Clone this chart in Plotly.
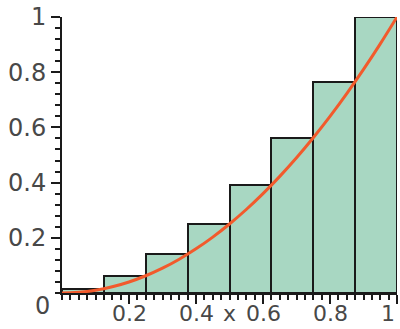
import plotly.graph_objects as go

# Right-endpoint rectangles (left edge, height)
bar_left = [0.0, 0.125, 0.25, 0.375, 0.5, 0.625, 0.75, 0.875]
bar_height = [0.016, 0.062, 0.141, 0.25, 0.391, 0.562, 0.766, 1.0]
bar_width = 0.125

# Curve points
curve_x = [-0.03, 0.0, 0.05, 0.1, 0.15, 0.2, 0.25, 0.3, 0.35, 0.4, 0.45, 0.5,
           0.55, 0.6, 0.65, 0.7, 0.75, 0.8, 0.85, 0.9, 0.95, 1.0]
curve_y = [0.001, 0.0, 0.0025, 0.01, 0.0225, 0.04, 0.0625, 0.09, 0.1225, 0.16,
           0.2025, 0.25, 0.3025, 0.36, 0.4225, 0.49, 0.5625, 0.64, 0.7225,
           0.81, 0.9025, 1.0]

x_ticks = [0.2, 0.4, 0.6, 0.8, 1.0]
x_labels = ["0.2", "0.4", "0.6", "0.8", "1"]
y_ticks = [0.2, 0.4, 0.6, 0.8, 1.0]
y_labels = ["0.2", "0.4", "0.6", "0.8", "1"]

font = dict(family="DejaVu Sans, sans-serif", size=24, color="#484848")
xfont = dict(family="DejaVu Sans, sans-serif", size=22, color="#484848")

fig = go.Figure()
fig.add_trace(go.Bar(
    x=[l + bar_width / 2 for l in bar_left], y=bar_height, width=bar_width,
    marker=dict(color="#a8d7c2", line=dict(color="#1a1a1a", width=2)),
    hoverinfo="skip"))
fig.add_trace(go.Scatter(
    x=curve_x, y=curve_y, mode="lines", line=dict(color="#f25a2c", width=3, shape="spline"),
    cliponaxis=False, hoverinfo="skip"))

axis_common = dict(showgrid=False, zeroline=False, showline=True, linecolor="#1a1a1a",
                   linewidth=2, ticks="outside", ticklen=9, tickwidth=2,
                   tickcolor="#1a1a1a", tickfont=font, automargin=False)

fig.update_layout(
    width=400, height=329, margin=dict(l=62, r=3, t=17, b=36),
    paper_bgcolor="white", plot_bgcolor="white", showlegend=False,
    font=font, bargap=0,
    xaxis=dict(range=[0, 1.0], tickvals=x_ticks, showticklabels=False,
               minor=dict(dtick=0.025, tick0=0, ticks="outside", ticklen=5,
                          tickwidth=1.5, tickcolor="#1a1a1a"),
               **axis_common),
    yaxis=dict(range=[0, 1.0], tickvals=y_ticks, ticktext=y_labels,
               minor=dict(dtick=0.04, tick0=0, ticks="outside", ticklen=5,
                          tickwidth=1.5, tickcolor="#1a1a1a"),
               **axis_common),
)
for xv, lab in zip(x_ticks, x_labels):
    last = xv == x_ticks[-1]
    fig.add_annotation(x=xv, y=0, xref="x", yref="y", text=lab, showarrow=False,
                       xanchor="right" if last else "center", yanchor="top",
                       xshift=-1 if last else 0, yshift=-7, borderpad=0, font=xfont)
fig.add_annotation(x=0.5, y=0, xref="x", yref="y", text="x", showarrow=False,
                   yanchor="top", yshift=-7, borderpad=0, font=xfont)
fig.add_annotation(x=0, y=0, xref="x", yref="y", text="0", showarrow=False,
                   xanchor="right", yanchor="top", xshift=-11, yshift=2, borderpad=0,
                   font=font)

fig.write_html("out.html", config={"displayModeBar": False},
               post_script="document.body.style.margin='0';document.body.style.overflow='hidden';")
